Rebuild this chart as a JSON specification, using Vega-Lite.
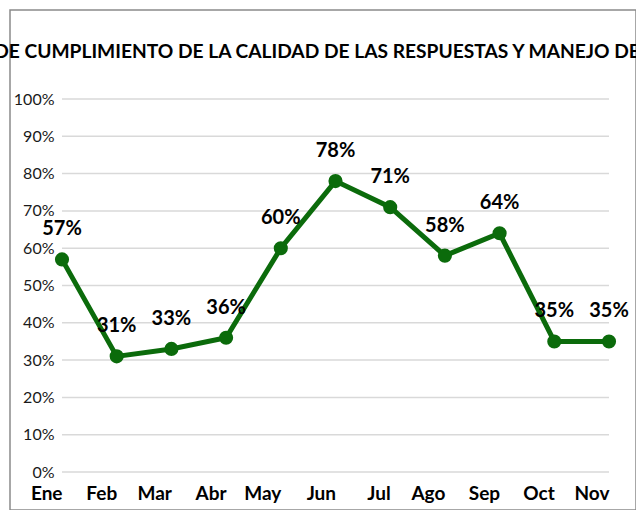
{
  "$schema": "https://vega.github.io/schema/vega-lite/v6.json",
  "autosize": "none",
  "width": 626,
  "height": 500,
  "padding": {"left": 10, "top": 10, "right": 0, "bottom": 0},
  "background": "white",
  "title": {
    "text": "DE CUMPLIMIENTO DE LA CALIDAD DE LAS RESPUESTAS Y MANEJO DE",
    "font": "Lato",
    "fontSize": 19.2,
    "fontWeight": "bold",
    "color": "#000000",
    "anchor": "middle",
    "offset": -52,
    "dx": -6
  },
  "config": {
    "view": {"stroke": "#8a8a8a", "strokeWidth": 1.5},
    "font": "Lato"
  },
  "layer": [
    {
      "data": {"values": [{"g": 0}, {"g": 0.1}, {"g": 0.2}, {"g": 0.3}, {"g": 0.4}, {"g": 0.5}, {"g": 0.6}, {"g": 0.7}, {"g": 0.8}, {"g": 0.9}, {"g": 1}]},
      "mark": {"type": "rule", "color": "#d9d9d9", "strokeWidth": 1.5},
      "encoding": {
        "y": {"field": "g", "type": "quantitative", "scale": {"domain": [0, 1], "range": [462, 89]},
          "axis": {"values": [0, 0.1, 0.2, 0.3, 0.4, 0.5, 0.6, 0.7, 0.8, 0.9, 1], "format": ".0%", "grid": false, "domain": false, "ticks": false, "offset": -47, "labelPadding": 3, "labelFont": "Lato", "labelFontSize": 16, "labelColor": "#1a1a1a", "title": null}},
        "x": {"datum": "Ene", "type": "ordinal"},
        "x2": {"datum": "Nov"}
      }
    },
    {
      "data": {"values": [
        {"mes": "Ene", "valor": 0.57},
        {"mes": "Feb", "valor": 0.31},
        {"mes": "Mar", "valor": 0.33},
        {"mes": "Abr", "valor": 0.36},
        {"mes": "May", "valor": 0.60},
        {"mes": "Jun", "valor": 0.78},
        {"mes": "Jul", "valor": 0.71},
        {"mes": "Ago", "valor": 0.58},
        {"mes": "Sep", "valor": 0.64},
        {"mes": "Oct", "valor": 0.35},
        {"mes": "Nov", "valor": 0.35}
      ]},
      "encoding": {
        "x": {"field": "mes", "type": "ordinal",
          "scale": {"type": "point", "domain": ["Ene", "Feb", "Mar", "Abr", "May", "Jun", "Jul", "Ago", "Sep", "Oct", "Nov"], "range": [52, 599], "padding": 0},
          "axis": {"orient": "bottom", "offset": -17, "domain": false, "ticks": false, "grid": false, "labelAngle": 0, "labelPadding": 0, "labelFont": "Lato", "labelFontSize": 19, "labelFontWeight": "bold", "labelColor": "#000000", "title": null}},
        "y": {"field": "valor", "type": "quantitative"}
      },
      "layer": [
        {"mark": {"type": "line", "color": "#0b6b0b", "strokeWidth": 5}},
        {"mark": {"type": "circle", "color": "#0b6b0b", "opacity": 1, "size": 200}},
        {"mark": {"type": "text", "font": "Lato", "fontSize": 20, "fontWeight": "bold", "color": "#000000", "baseline": "alphabetic", "dy": -24},
          "encoding": {"text": {"field": "valor", "type": "quantitative", "format": ".0%"}}}
      ]
    }
  ]
}
